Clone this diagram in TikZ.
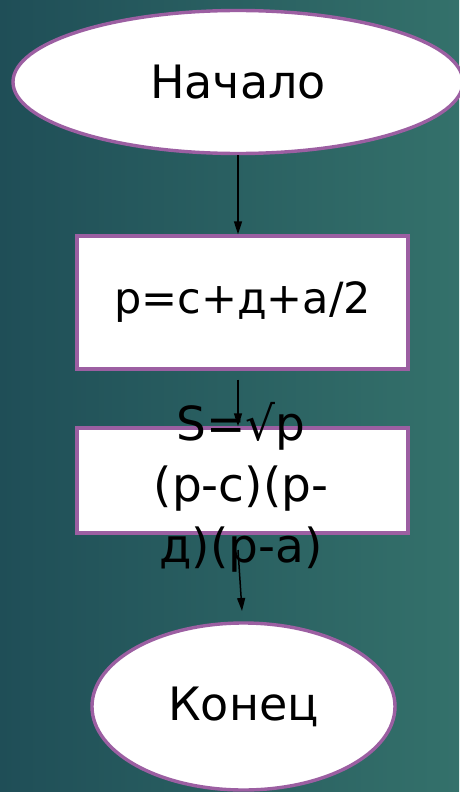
\documentclass[tikz,border=0pt]{standalone}
\usepackage{fontspec}
\setmainfont{DejaVu Sans}
\usetikzlibrary{shapes.geometric,arrows.meta}
\definecolor{bgleft}{HTML}{1F4E57}
\definecolor{bgright}{HTML}{34716B}
\definecolor{rim}{HTML}{9C5FA2}
\tikzset{
  term/.style={ellipse,draw=rim,line width=3.4pt,fill=white,inner sep=0pt,text=black},
  proc/.style={rectangle,draw=rim,line width=3.4pt,fill=white,inner sep=0pt},
  flow/.style={-{Triangle[length=13pt,width=8pt]},line width=1.5pt,black}
}
\begin{document}
\begin{tikzpicture}[x=1pt,y=-1pt]
\useasboundingbox (0,0) rectangle (459,792);
\shade[left color=bgleft,right color=bgright] (0,0) rectangle (459,792);
\node[term,minimum width=450pt,minimum height=143pt,font=\fontsize{46}{52}\selectfont] (e1) at (238,82) {Начало};
\node[proc,minimum width=331pt,minimum height=133pt,font=\fontsize{43}{50}\selectfont] (b1) at (242.5,302.5) {p=c+д+a/2};
\node[proc,minimum width=331pt,minimum height=105pt] (b2) at (242.5,480.5) {};
\node[term,minimum width=303pt,minimum height=167pt,font=\fontsize{46}{52}\selectfont] (e2) at (243.5,706.5) {Конец};
\node[align=center,inner sep=0pt,font=\fontsize{47}{61}\selectfont,text=black] (t2) at (241,487) {S=√p\\(p-c)(p-\\д)(p-a)};
\coordinate (a3s) at (238,550);
\coordinate (a3e) at (242,611);
\draw[flow] (e1.south) -- (e1.south |- b1.north);
\draw[flow,shorten <=9pt] (b1.south -| e1.south) -- (b2.north -| e1.south);
\draw[flow] (a3s) -- (a3e);
\end{tikzpicture}
\end{document}
